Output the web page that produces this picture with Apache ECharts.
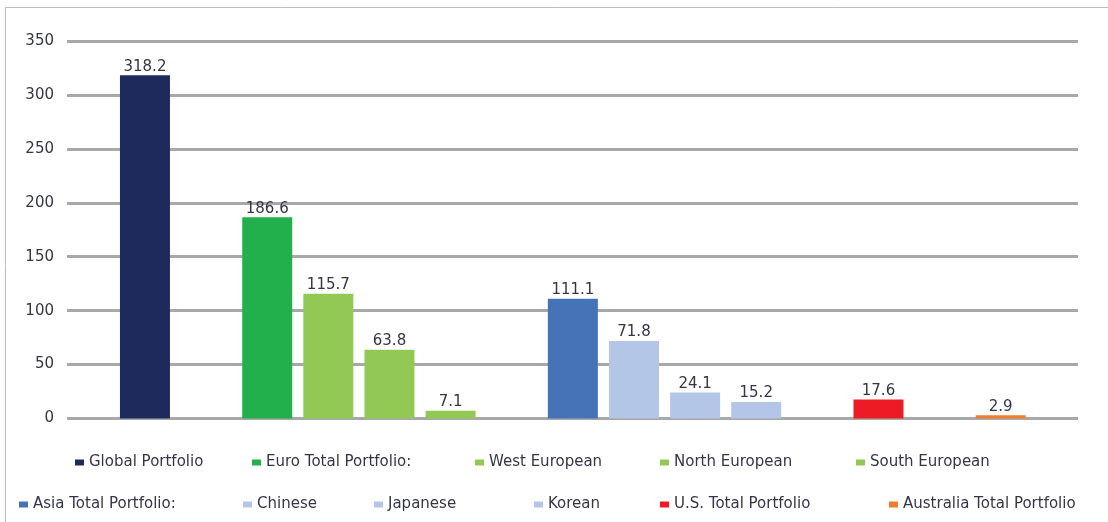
<!DOCTYPE html>
<html>
<head>
<meta charset="utf-8">
<script src="https://cdn.jsdelivr.net/npm/echarts@6/dist/echarts.min.js"></script>
<style>
  html, body { margin: 0; padding: 0; background: #ffffff; }
  #chart { width: 1108px; height: 522px; }
</style>
</head>
<body>
<div id="chart"></div>
<script>
// ---- data ----
const slots = ['Global Portfolio', '', 'Euro Total Portfolio:', 'West European', 'North European', 'South European', '',
  'Asia Total Portfolio:', 'Chinese', 'Japanese', 'Korean', '', 'U.S. Total Portfolio', '', 'Australia Total Portfolio'];
const seriesNames = ['Global Portfolio', 'Euro Total Portfolio:', 'West European', 'North European', 'South European',
  'Asia Total Portfolio:', 'Chinese', 'Japanese', 'Korean', 'U.S. Total Portfolio', 'Australia Total Portfolio'];
const seriesValues = [318.2, 186.6, 115.7, 63.8, 7.1, 111.1, 71.8, 24.1, 15.2, 17.6, 2.9];
const yTicks = [0, 50, 100, 150, 200, 250, 300, 350];

// ---- styles ----
const colors = ['#1f2a5c', '#21b04b', '#92c955', '#92c955', '#92c955',
  '#4672b8', '#b4c6e7', '#b4c6e7', '#b4c6e7', '#ed1c24', '#ef7d31'];
const legendPos = [
  [75, 455], [252, 455], [475, 455], [660, 455], [856, 455],
  [19, 497], [243, 497], [374, 497], [534, 497], [660, 497], [889, 497]
];
const FONT = 'DejaVu Sans';
const TXT = '#35354a';

const chart = echarts.init(document.getElementById('chart'), null, { renderer: 'canvas' });

const series = seriesNames.map((name, i) => ({
  name: name,
  type: 'bar',
  xAxisIndex: 1,
  yAxisIndex: 1,
  barWidth: 50,
  barGap: '-100%',
  itemStyle: { color: colors[i] },
  label: {
    show: true,
    position: 'top',
    distance: 1,
    fontFamily: FONT,
    fontSize: 15,
    color: TXT
  },
  data: slots.map(s => (s === name ? seriesValues[i] : null))
}));

const legends = seriesNames.map((name, i) => ({
  data: [name],
  left: legendPos[i][0],
  top: legendPos[i][1],
  padding: 0,
  itemWidth: 9,
  itemHeight: 6,
  icon: 'rect',
  selectedMode: false,
  textStyle: { fontFamily: FONT, fontSize: 15, color: TXT }
}));

const yMin = yTicks[0], yMax = yTicks[yTicks.length - 1], yStep = yTicks[1] - yTicks[0];

chart.setOption({
  animation: false,
  backgroundColor: '#ffffff',
  legend: legends,
  grid: [
    { left: 67, right: 30, top: 41, bottom: 103.5 },
    { left: 114.4, right: 76.7, top: 41, bottom: 103.5 }
  ],
  xAxis: [
    { type: 'category', gridIndex: 0, data: [''], show: false },
    { type: 'category', gridIndex: 1, data: slots, show: false }
  ],
  yAxis: [
    {
      type: 'value', gridIndex: 0, min: yMin, max: yMax, interval: yStep,
      axisLine: { show: false }, axisTick: { show: false },
      axisLabel: { margin: 13, fontFamily: FONT, fontSize: 15, color: TXT },
      splitLine: { lineStyle: { color: '#a8a8ab', width: 3 } }
    },
    {
      type: 'value', gridIndex: 1, min: yMin, max: yMax, interval: yStep,
      show: false, splitLine: { show: false }
    }
  ],
  graphic: [
    { type: 'line', shape: { x1: 5, y1: 7.5, x2: 1108, y2: 7.5 }, style: { stroke: '#bdbdbd', lineWidth: 1 } },
    { type: 'line', shape: { x1: 5.5, y1: 7, x2: 5.5, y2: 522 }, style: { stroke: '#bdbdbd', lineWidth: 1 } }
  ],
  series: series
});
</script>
</body>
</html>
